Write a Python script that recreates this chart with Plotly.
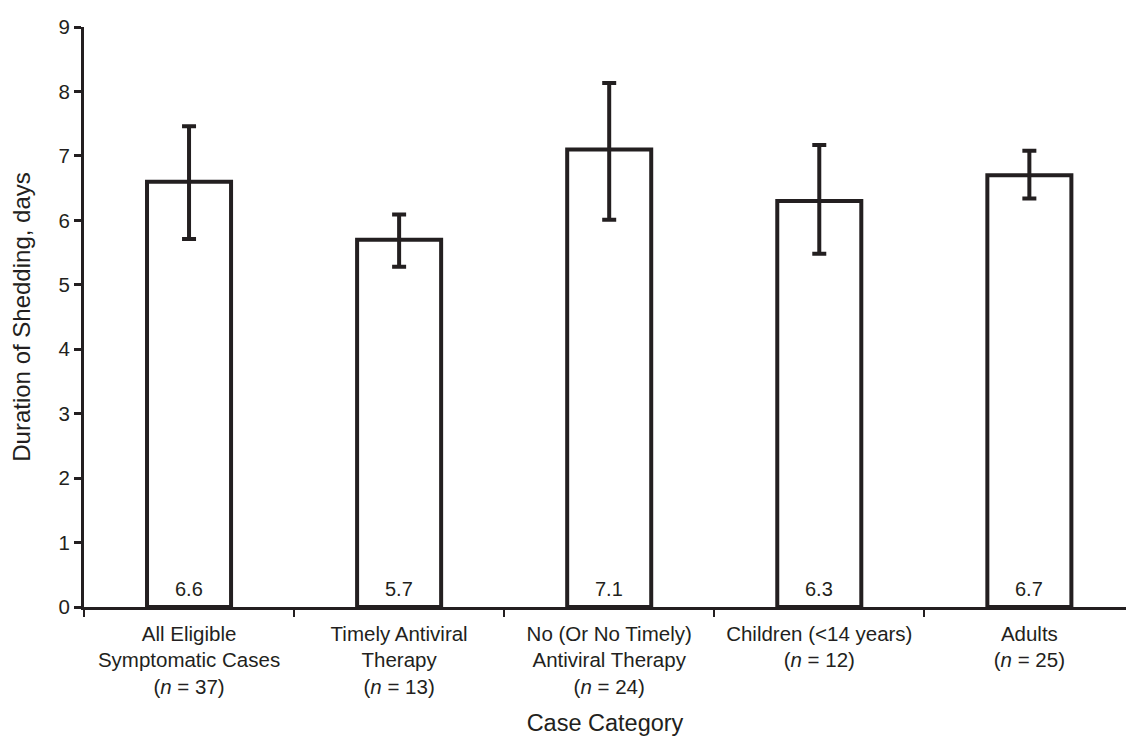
import plotly.graph_objects as go

categories = [
    "All Eligible<br>Symptomatic Cases<br>(<i>n</i> = 37)",
    "Timely Antiviral<br>Therapy<br>(<i>n</i> = 13)",
    "No (Or No Timely)<br>Antiviral Therapy<br>(<i>n</i> = 24)",
    "Children (&lt;14 years)<br>(<i>n</i> = 12)",
    "Adults<br>(<i>n</i> = 25)",
]
values = [6.6, 5.7, 7.1, 6.3, 6.7]
upper = [7.46, 6.09, 8.13, 7.17, 7.08]
lower = [5.71, 5.28, 6.01, 5.48, 6.34]
value_labels = ["6.6", "5.7", "7.1", "6.3", "6.7"]
y_ticks = [0, 1, 2, 3, 4, 5, 6, 7, 8, 9]

INK = "#231f20"
FONT = "Liberation Sans, Arial, sans-serif"

err_plus = [u - v for u, v in zip(upper, values)]
err_minus = [v - l for v, l in zip(values, lower)]

fig = go.Figure()
fig.add_trace(go.Bar(
    x=categories,
    y=values,
    width=0.4,
    marker=dict(color="white", line=dict(color=INK, width=4)),
    error_y=dict(type="data", symmetric=False, array=err_plus, arrayminus=err_minus,
                 color=INK, thickness=4, width=7),
    hoverinfo="skip",
))

for cat, lab in zip(categories, value_labels):
    fig.add_annotation(
        x=cat, y=0, xref="x", yref="y", text=lab, showarrow=False,
        yanchor="bottom", yshift=5,
        font=dict(family=FONT, size=20, color=INK),
    )

fig.update_layout(
    width=1126,
    height=736,
    margin=dict(l=84, r=0, t=27, b=129),
    paper_bgcolor="white",
    plot_bgcolor="white",
    font=dict(family=FONT, color=INK, size=20),
    showlegend=False,
)

fig.update_xaxes(
    type="category",
    range=[-0.5, 4.46],
    showline=True, linecolor=INK, linewidth=3,
    ticks="outside", tickson="boundaries", ticklen=7, tickwidth=2, tickcolor=INK,
    ticklabelstandoff=6,
    showgrid=False, zeroline=False,
    tickfont=dict(family=FONT, size=20.5, color=INK),
    title=dict(text="Case Category", font=dict(family=FONT, size=23.5, color=INK), standoff=18),
)

fig.update_yaxes(
    range=[0, 9],
    tickvals=y_ticks,
    showline=True, linecolor=INK, linewidth=3,
    ticks="outside", ticklen=7, tickwidth=3, tickcolor=INK,
    showgrid=False, zeroline=False,
    tickfont=dict(family=FONT, size=20.5, color=INK),
    title=dict(text="Duration of Shedding, days", font=dict(family=FONT, size=24, color=INK), standoff=22),
)

fig.write_html("out.html", config={"displayModeBar": False},
               post_script="document.body.style.margin='0';")
